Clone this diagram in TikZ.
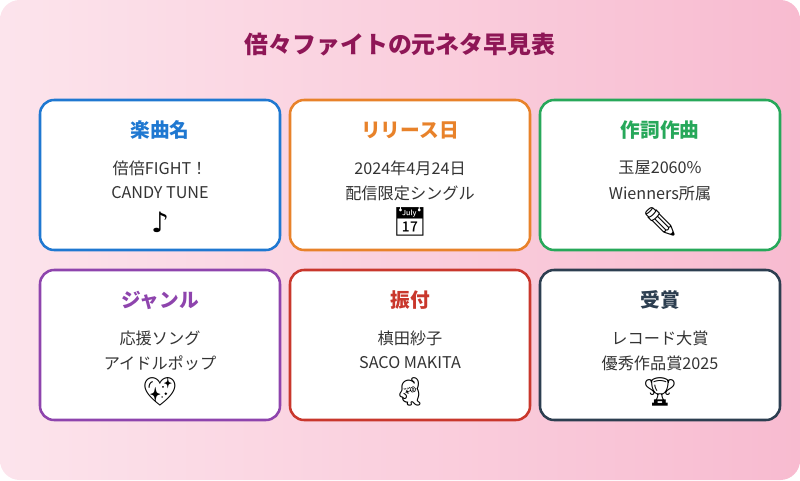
\documentclass[tikz,border=0pt]{standalone}
\usepackage{fontspec}
\setmainfont{Noto Sans CJK JP}
\newfontfamily\emojifont{Noto Emoji}
\newfontfamily\symfont{DejaVu Sans}
\definecolor{bgA}{HTML}{FCE4EC}
\definecolor{bgB}{HTML}{F8BBD0}
\definecolor{titlecol}{HTML}{8E1656}
\definecolor{cblue}{HTML}{1F78D1}
\definecolor{corange}{HTML}{E8822A}
\definecolor{cgreen}{HTML}{27A85A}
\definecolor{cpurple}{HTML}{8E44AD}
\definecolor{cred}{HTML}{C9372C}
\definecolor{cnavy}{HTML}{2C3E50}
\definecolor{bodytext}{HTML}{333333}

\begin{document}
\begin{tikzpicture}[x=0.025cm,y=-0.025cm]
        \tikzset{cardbox/.style={draw=#1, line width=1.8pt, fill=white,
            rounded corners=10pt}}
        \tikzset{cardhead/.style={text=#1, font=\fontsize{14}{16}\selectfont\bfseries}}
        \tikzset{cardline/.style={text=bodytext, font=\fontsize{11.5}{13}\selectfont}}
        \tikzset{cardicon/.style={font=\emojifont\fontsize{20}{22}\selectfont}}

        \shade[left color=bgA, right color=bgB, rounded corners=14pt]
          (0,0) rectangle (800,480);
        \useasboundingbox (0,0) rectangle (800,480);

        \node[text=titlecol, font=\fontsize{17}{20}\selectfont\bfseries]
          (title) at (400,45) {倍々ファイトの元ネタ早見表};

        \foreach \nm/\cx/\cy/\col/\head/\lineA/\lineB/\icon in {
            song/160/100/cblue/楽曲名/倍倍FIGHT！/CANDY TUNE/{\symfont ♪},
            release/410/100/corange/リリース日/2024年4月24日/配信限定シングル/📅,
            writer/660/100/cgreen/作詞作曲/玉屋2060\%/Wienners所属/✏,
            genre/160/270/cpurple/ジャンル/応援ソング/アイドルポップ/💖,
            dance/410/270/cred/振付/槙田紗子/SACO MAKITA/🕺,
            award/660/270/cnavy/受賞/レコード大賞/優秀作品賞2025/🏆} {
          \draw[cardbox=\col] (\cx-120,\cy) rectangle (\cx+120,\cy+150);
          \node[cardhead=\col] (\nm-head) at (\cx,\cy+30) {\head};
          \node[cardline] (\nm-a) at (\cx,\cy+68) {\lineA};
          \node[cardline] (\nm-b) at (\cx,\cy+93) {\lineB};
          \node[cardicon] (\nm-icon) at (\cx,\cy+122) {\icon};
        }
      \end{tikzpicture}
\end{document}
